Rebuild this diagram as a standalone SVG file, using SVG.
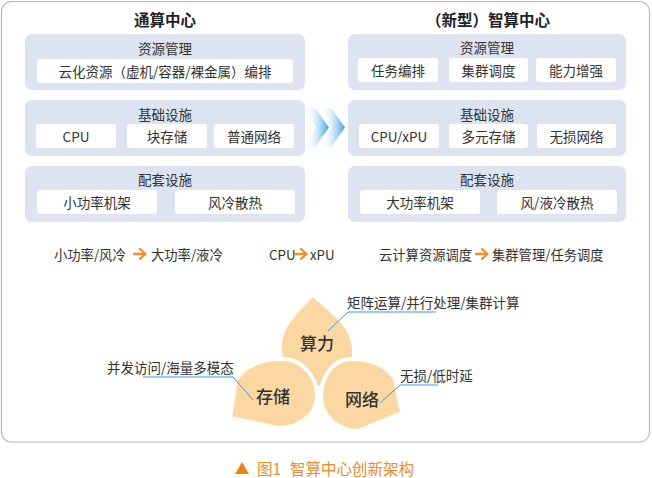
<svg xmlns="http://www.w3.org/2000/svg" width="652" height="478" viewBox="0 0 652 478">
<defs>
<style>
text{font-family:'Noto Sans CJK SC','Noto Sans',sans-serif;fill:#333;dominant-baseline:central}
.title{font-size:15.5px;font-weight:700;fill:#222;text-anchor:middle}
.ptitle{font-size:13.5px;text-anchor:middle}
.btxt{font-size:13.5px;text-anchor:middle}
.panel{fill:#dde3f0}
.box{fill:#fff}
.row{font-size:13.3px}
.lbl{font-size:13.5px}
.petal{fill:#fbd7a2}
.cut{stroke:#fff;stroke-width:4;stroke-linejoin:round}
.plabel{font-size:17px;font-weight:500;text-anchor:middle}
.lead{fill:none;stroke:#3a9ad9;stroke-width:1}
.oarrow{fill:none;stroke:#f0902a;stroke-width:2.3;stroke-linecap:round;stroke-linejoin:round}
.cap{font-size:15.5px;fill:#f08c2a}
</style>
<linearGradient id="chev" x1="0" y1="0" x2="1" y2="0">
<stop offset="0.12" stop-color="#ffffff" stop-opacity="0"/>
<stop offset="1" stop-color="#3d9fdc"/>
</linearGradient>
</defs>
<rect x="0" y="0" width="652" height="478" fill="#fff"/>
<rect id="frame" x="1.5" y="1.5" width="648" height="440.5" rx="10" fill="#fff" stroke="#b8b8b8" stroke-width="1.2"/>

<g id="left-center">
<text class="title" x="165" y="19">通算中心</text>
<g id="left-resource">
<rect class="panel" x="25" y="34" width="280" height="56" rx="7"/>
<text class="ptitle" x="165" y="48">资源管理</text>
<rect class="box" x="37" y="59" width="256" height="24" rx="3"/>
<text class="btxt" x="165" y="71">云化资源（虚机/容器/裸金属）编排</text>
</g>
<g id="left-infra">
<rect class="panel" x="25" y="100" width="280" height="56" rx="7"/>
<text class="ptitle" x="165" y="114">基础设施</text>
<rect class="box" x="36" y="124" width="80" height="24" rx="3"/>
<text class="btxt" x="76" y="136">CPU</text>
<rect class="box" x="127" y="124" width="80" height="24" rx="3"/>
<text class="btxt" x="167" y="136">块存储</text>
<rect class="box" x="214" y="124" width="80" height="24" rx="3"/>
<text class="btxt" x="254" y="136">普通网络</text>
</g>
<g id="left-support">
<rect class="panel" x="25" y="166" width="280" height="56" rx="7"/>
<text class="ptitle" x="165" y="179">配套设施</text>
<rect class="box" x="37" y="190" width="120" height="24" rx="3"/>
<text class="btxt" x="97" y="202">小功率机架</text>
<rect class="box" x="175" y="190" width="120" height="24" rx="3"/>
<text class="btxt" x="235" y="202">风冷散热</text>
</g>
</g>

<g id="right-center">
<text class="title" x="488" y="19">（新型）智算中心</text>
<g id="right-resource">
<rect class="panel" x="348" y="34" width="278" height="56" rx="7"/>
<text class="ptitle" x="487" y="47">资源管理</text>
<rect class="box" x="358" y="58" width="80" height="24" rx="3"/>
<text class="btxt" x="398" y="70">任务编排</text>
<rect class="box" x="449" y="58" width="79" height="24" rx="3"/>
<text class="btxt" x="488.5" y="70">集群调度</text>
<rect class="box" x="536" y="58" width="80" height="24" rx="3"/>
<text class="btxt" x="576" y="70">能力增强</text>
</g>
<g id="right-infra">
<rect class="panel" x="348" y="100" width="278" height="56" rx="7"/>
<text class="ptitle" x="487" y="114">基础设施</text>
<rect class="box" x="359" y="124" width="80" height="24" rx="3"/>
<text class="btxt" x="399" y="136">CPU/xPU</text>
<rect class="box" x="449" y="124" width="79" height="24" rx="3"/>
<text class="btxt" x="488.5" y="136">多元存储</text>
<rect class="box" x="537" y="124" width="79" height="24" rx="3"/>
<text class="btxt" x="576.5" y="136">无损网络</text>
</g>
<g id="right-support">
<rect class="panel" x="348" y="166" width="278" height="56" rx="7"/>
<text class="ptitle" x="487" y="179">配套设施</text>
<rect class="box" x="360" y="190" width="120" height="24" rx="3"/>
<text class="btxt" x="420" y="202">大功率机架</text>
<rect class="box" x="497" y="190" width="120" height="24" rx="3"/>
<text class="btxt" x="557" y="202">风/液冷散热</text>
</g>
</g>

<g id="change-row">
<text class="row" x="54" y="254">小功率/风冷</text>
<path class="oarrow" d="M134,254 H145 M140,249 L145.5,254 L140,259"/>
<text class="row" x="151" y="254">大功率/液冷</text>
<text class="row" x="269" y="254">CPU</text>
<path class="oarrow" d="M295,254 H306 M301,249 L306.5,254 L301,259"/>
<text class="row" x="310" y="254">xPU</text>
<text class="row" x="379" y="254">云计算资源调度</text>
<path class="oarrow" d="M476,254 H487 M482,249 L487.5,254 L482,259"/>
<text class="row" x="492" y="254">集群管理/任务调度</text>
</g>

<g id="petal-compute">
<path class="petal" d="M313,297 C322,308 350,322 352,348 C354,372 335,386 317,386 C299,386 281,372 282,346 C283,322 304,308 313,297 Z"/>
</g>
<g id="petal-storage">
<path class="petal cut" d="M230,418 L236,380 C244,366 262,358 284,359 C303,360 317,377 317,396 C317,415 299,428 278,428 Z"/>
</g>
<g id="petal-network">
<path class="petal cut" d="M402,413 L395,379 C387,366 370,358 350,359 C332,360 321,378 321,396 C321,416 338,431 358,431 Z"/>
</g>
<text class="plabel" x="317" y="342">算力</text>
<text class="plabel" x="273" y="395">存储</text>
<text class="plabel" x="362" y="398">网络</text>

<text class="lbl" x="347" y="302">矩阵运算/并行处理/集群计算</text>
<text class="lbl" x="107" y="367">并发访问/海量多模态</text>
<text class="lbl" x="400" y="375">无损/低时延</text>

<g id="connectors">
<polygon fill="url(#chev)" points="302,108 315,108 329,127.5 315,147 302,147 316,127.5"/>
<polygon fill="url(#chev)" points="318,108 331,108 345,127.5 331,147 318,147 332,127.5"/>
<path class="lead" d="M436,312 H348 L328,331"/>
<path class="lead" d="M143,377 H233 L253,400"/>
<path class="lead" d="M438,385 H400 L380,403"/>
</g>

<g id="caption">
<polygon points="235,474 242,462 249,474" fill="#f0821e"/>
<text class="cap" x="257" y="468">图1</text>
<text class="cap" x="290" y="468">智算中心创新架构</text>
</g>
</svg>
